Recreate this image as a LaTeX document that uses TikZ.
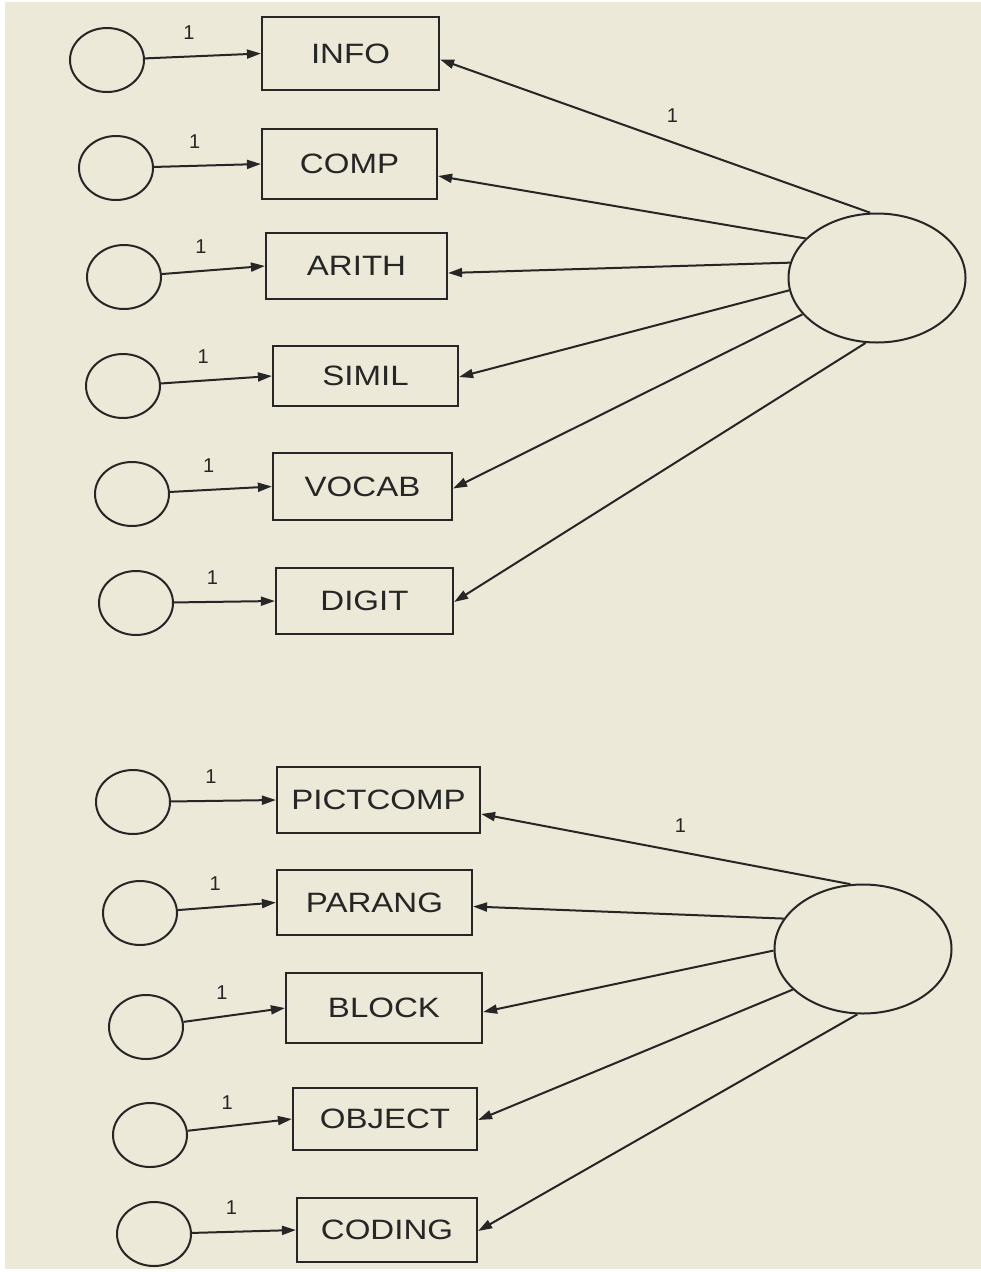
\documentclass[tikz,border=0pt]{standalone}
\usepackage{fontspec}
\setmainfont{Liberation Sans}
\newfontfamily\varfont[FakeStretch=1.18]{Liberation Sans}
\usepackage{tikz}
\usetikzlibrary{arrows.meta, positioning, shapes.geometric}
\definecolor{amosbg}{RGB}{236,233,216}
\definecolor{inkgray}{RGB}{38,38,38}

\begin{document}
\begin{tikzpicture}[x=1pt, y=-1pt,
  observed/.style={draw=inkgray, line width=2.2pt, inner sep=0pt,
                   font=\varfont\fontsize{28}{30}\selectfont, text=inkgray},
  errvar/.style={draw=inkgray, ellipse, line width=2pt, inner sep=0pt,
                 minimum width=74pt, minimum height=64pt},
  factor/.style={draw=inkgray, ellipse, line width=2pt, inner sep=0pt,
                 minimum width=177pt, minimum height=129pt},
  regpath/.style={-{Triangle[length=14pt,width=9pt]}, line width=2pt, draw=inkgray},
  fixed/.style={font=\fontsize{20}{22}\selectfont, inner sep=2pt, text=inkgray}]

% canvas
\fill[white] (0,0) rectangle (981,1272);
\fill[amosbg] (5,2) rectangle (981,1269);

% Indicators with their error terms
\foreach \name/\lbl/\bx/\by/\bw/\bh/\ex/\ey in {
    info/INFO/350.5/53.5/177/73/107/60,
    comp/COMP/349.5/164/175/70/116/168,
    arith/ARITH/356.5/266/181/66/124/277,
    simil/SIMIL/365.5/376/185/60/123/386,
    vocab/VOCAB/362.5/486.5/179/67/132/494,
    digit/DIGIT/364.5/601/177/66/136/603,
    pictcomp/PICTCOMP/378.5/800/203/66/133/802,
    parang/PARANG/374.5/902.5/195/65/140/913,
    block/BLOCK/384/1008/196/70/146/1027,
    object/OBJECT/385/1119/184/62/150/1135,
    coding/CODING/387/1230/180/64/154/1234} {
  \node[observed, minimum width=\bw, minimum height=\bh] (\name) at (\bx,\by) {\lbl};
  \node[errvar] (e\name) at (\ex,\ey) {};
  \draw[regpath] (e\name) -- (\name.west) node[fixed, pos=0.38, above=14pt] {1};
}

% Verbal factor
\node[factor] (verbal) at (877,278) {};
\draw[regpath] (verbal.96) -- ([yshift=-6pt]info.east)
  node[fixed, pos=0.46, above=17pt] {1};
\foreach \name/\ang/\dy in {comp/151/12, arith/170/7, simil/188/1, vocab/206/2, digit/260/1}
  \draw[regpath] (verbal.\ang) -- ([yshift=-\dy pt]\name.east);

% Performance factor
\node[factor] (perform) at (863,949) {};
\draw[regpath] (perform.101) -- ([yshift=-14pt]pictcomp.east)
  node[fixed, pos=0.46, above=16pt] {1};
\foreach \name/\ang/\dy in {parang/159/4, block/181/4, object/210/1, coding/265/1}
  \draw[regpath] (perform.\ang) -- ([yshift=-\dy pt]\name.east);

\end{tikzpicture}
\end{document}
